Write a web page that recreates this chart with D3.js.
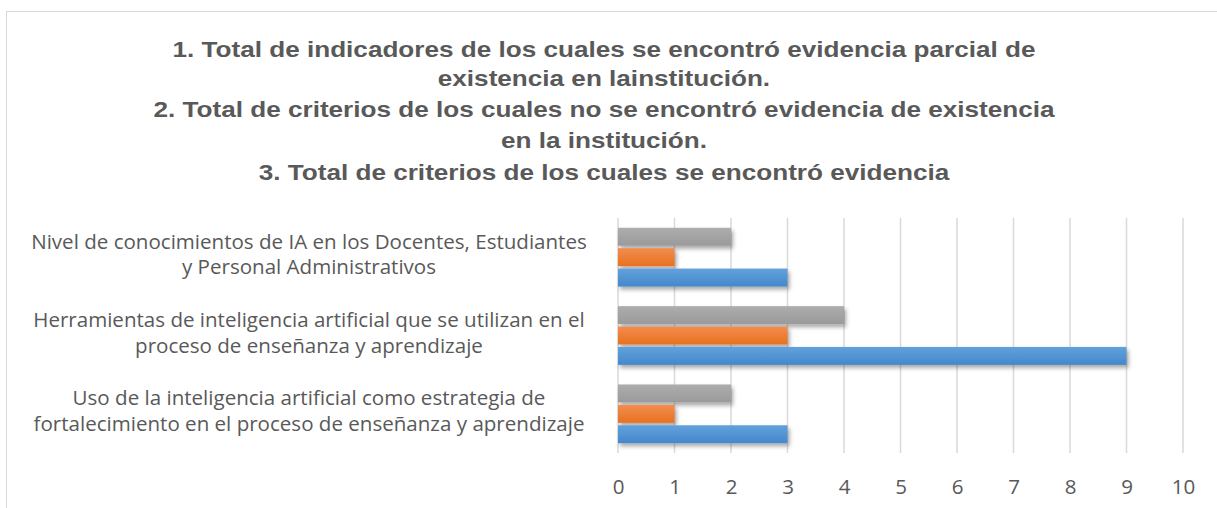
<!DOCTYPE html>
<html>
<head>
<meta charset="utf-8">
<script src="https://cdn.jsdelivr.net/npm/d3@7"></script>
<style>
  html, body { margin: 0; padding: 0; background: #fff; }
  svg { display: block; }
</style>
</head>
<body>
<svg id="chart" width="1217" height="508"></svg>
<script>
// categories, top to bottom as they appear
const categories = [
  ["Nivel de conocimientos de IA en los Docentes, Estudiantes", "y Personal Administrativos"],
  ["Herramientas de inteligencia artificial que se utilizan en el", "proceso de enseñanza y aprendizaje"],
  ["Uso de la inteligencia artificial como estrategia de", "fortalecimiento en el proceso de enseñanza y aprendizaje"]
];
const series1 = [3, 9, 3];   // blue
const series2 = [1, 3, 1];   // orange
const series3 = [2, 4, 2];   // gray
const xTicks = [0, 1, 2, 3, 4, 5, 6, 7, 8, 9, 10];
const titleLines = [
  "1. Total de indicadores de los cuales se encontró evidencia parcial de",
  "existencia en lainstitución.",
  "2. Total de criterios de los cuales no se encontró evidencia de existencia",
  "en la institución.",
  "3. Total de criterios de los cuales se encontró evidencia"
];

const seriesList = [
  { key: "s3", values: series3, top: "#adadad", bottom: "#9a9a9a" },
  { key: "s2", values: series2, top: "#f28d4f", bottom: "#e8711f" },
  { key: "s1", values: series1, top: "#62a1dc", bottom: "#4488cb" }
];

const TITLE_FONT = '"Liberation Sans", Arial, sans-serif';
const LABEL_FONT = '"Open Sans", sans-serif';

const svg = d3.select('#chart');

// width of a string in the svg at 100px
function measure(str, font, weight) {
  let tmp = svg.append('text')
    .style('font-family', font)
    .style('font-weight', weight)
    .style('font-size', '100px')
    .text(str);
  let w = tmp.node().getBBox().width;
  tmp.remove();
  return w;
}

// chart border
svg.append('rect')
  .attr('x', 6.5).attr('y', 11.5)
  .attr('width', 1300).attr('height', 600)
  .attr('fill', 'none')
  .attr('stroke', '#d9d9d9')
  .attr('stroke-width', 1);

// gradients + shadow
const defs = svg.append('defs');
seriesList.forEach(s => {
  let g = defs.append('linearGradient')
    .attr('id', 'grad-' + s.key)
    .attr('x1', 0).attr('y1', 0).attr('x2', 0).attr('y2', 1);
  g.append('stop').attr('offset', '0%').attr('stop-color', s.top);
  g.append('stop').attr('offset', '100%').attr('stop-color', s.bottom);
});
const shadow = defs.append('filter').attr('id', 'shadow')
  .attr('x', '-10%').attr('y', '-30%').attr('width', '130%').attr('height', '190%');
shadow.append('feDropShadow')
  .attr('dx', 2).attr('dy', 3).attr('stdDeviation', 2.2)
  .attr('flood-color', '#000').attr('flood-opacity', 0.35);

// title: stretched so the first line is as wide as in the picture
const TITLE_SIZE = 22;
const titleW = titleLines.map(t => measure(t, TITLE_FONT, 'bold'));
const stretch = (titleW[0] > 0) ? 863 / titleW[0] : TITLE_SIZE / 100;
svg.append('g')
  .selectAll('text')
  .data(titleLines)
  .enter()
  .append('text')
  .attr('text-anchor', 'middle')
  .style('font-family', TITLE_FONT)
  .style('font-weight', 'bold')
  .style('font-size', TITLE_SIZE + 'px')
  .attr('fill', '#595959')
  .attr('x', 604)
  .attr('y', (d, i) => [57, 86, 117, 148, 180][i])
  .attr('textLength', (d, i) => titleW[i] > 0 ? titleW[i] * stretch : null)
  .attr('lengthAdjust', 'spacingAndGlyphs')
  .text(d => d);

// scales
const x = d3.scaleLinear().domain([0, 10]).range([618, 1183]);
const y = d3.scaleBand()
  .domain(d3.range(categories.length))
  .range([218, 453])
  .paddingInner(0.25)
  .paddingOuter(0.125);
const ySub = d3.scaleBand()
  .domain(seriesList.map(s => s.key))
  .range([0, y.bandwidth()])
  .paddingInner(0.12);

// gridlines
svg.append('g')
  .selectAll('line')
  .data(xTicks)
  .enter()
  .append('line')
  .attr('x1', d => x(d)).attr('x2', d => x(d))
  .attr('y1', 218).attr('y2', 453)
  .attr('stroke', '#d9d9d9')
  .attr('stroke-width', 1.5);

// bars
let groups = svg.selectAll('.cat')
  .data(categories)
  .enter()
  .append('g')
  .attr('class', 'cat')
  .attr('transform', (d, i) => `translate(0,${y(i)})`);

groups.each(function(d, i) {
  d3.select(this).selectAll('rect')
    .data(seriesList)
    .enter()
    .append('rect')
    .attr('x', x(0))
    .attr('y', s => ySub(s.key))
    .attr('height', ySub.bandwidth())
    .attr('width', s => x(s.values[i]) - x(0))
    .attr('fill', s => `url(#grad-${s.key})`)
    .attr('filter', 'url(#shadow)');
});

// category labels
let wCat = measure(categories[0][0], LABEL_FONT, 'normal');
let catSize = wCat > 0 ? 100 * 556 / wCat : 17;
catSize = Math.max(14, Math.min(21, catSize));
groups.append('text')
  .attr('text-anchor', 'middle')
  .style('font-family', LABEL_FONT)
  .style('font-size', catSize + 'px')
  .attr('fill', '#595959')
  .selectAll('tspan')
  .data(d => d)
  .enter()
  .append('tspan')
  .attr('x', 309)
  .attr('y', (d, j) => y.bandwidth() / 2 - 8.5 + j * 25.5)
  .text(d => d);

// x axis labels
let xAxis = d3.axisBottom(x).tickValues(xTicks).tickSize(0).tickPadding(0);
let axisG = svg.append('g')
  .attr('transform', 'translate(0,479)')
  .call(xAxis);
axisG.select('.domain').remove();
axisG.selectAll('text')
  .style('font-family', LABEL_FONT)
  .style('font-size', catSize + 'px')
  .attr('fill', '#595959');
</script>
</body>
</html>
